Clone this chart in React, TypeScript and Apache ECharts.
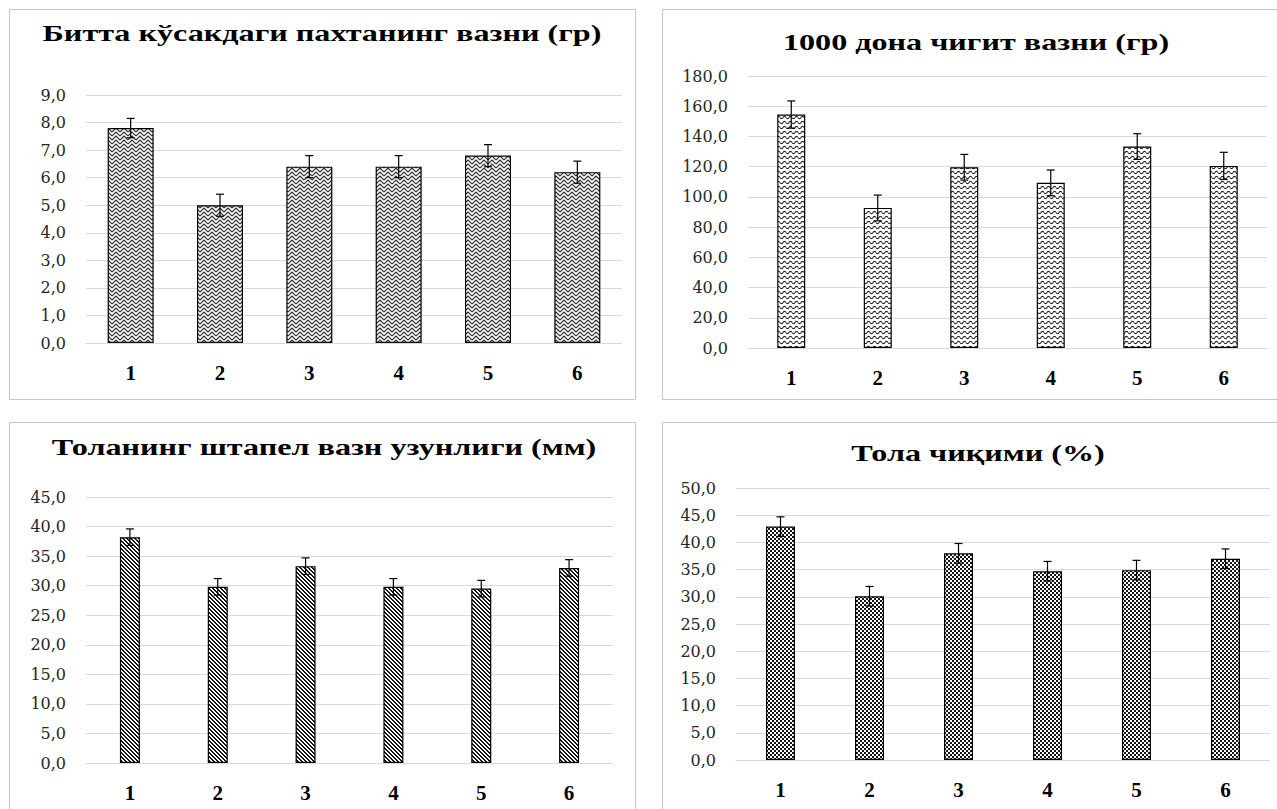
import React, { useEffect, useRef } from "react";
import * as echarts from "echarts";

// ---- data ----
const categories = ["1", "2", "3", "4", "5", "6"];

const bollWeight = [7.8, 5.0, 6.4, 6.4, 6.8, 6.2];
const bollWeightErr = [0.35, 0.4, 0.4, 0.4, 0.4, 0.4];

const seedWeight = [154.5, 92.7, 119.6, 109.3, 133.3, 120.5];
const seedWeightErr = [9, 8.5, 8.5, 8.5, 8.5, 9];

const fiberLength = [38.2, 29.8, 33.3, 29.8, 29.5, 33.0];
const fiberLengthErr = [1.4, 1.4, 1.4, 1.4, 1.4, 1.4];

const lintYield = [42.9, 30.1, 38.0, 34.7, 34.9, 37.0];
const lintYieldErr = [1.8, 1.8, 1.8, 1.8, 1.8, 1.8];

const titles = [
  "Битта кўсакдаги пахтанинг вазни (гр)",
  "1000 дона чигит вазни (гр)",
  "Толанинг штапел вазн узунлиги (мм)",
  "Тола чиқими (%)",
];

const yMaxes = [9, 180, 45, 50];
const ySteps = [1, 20, 5, 5];

// ---- pattern tiles ----
function tile(w: number, h: number, draw: (ctx: CanvasRenderingContext2D) => void) {
  const c = document.createElement("canvas");
  c.width = w;
  c.height = h;
  const ctx = c.getContext("2d")!;
  ctx.fillStyle = "#ffffff";
  ctx.fillRect(0, 0, w, h);
  draw(ctx);
  return { image: c.toDataURL(), repeat: "repeat", imageWidth: w, imageHeight: h } as any;
}

function zigzagPattern() {
  return tile(8, 8, (ctx) => {
    ctx.strokeStyle = "#2a2a2a";
    ctx.lineWidth = 1.15;
    for (let y0 = -8; y0 <= 12; y0 += 4) {
      ctx.beginPath();
      ctx.moveTo(0, y0 + 4);
      ctx.lineTo(4, y0);
      ctx.lineTo(8, y0 + 4);
      ctx.stroke();
    }
  });
}

function wavePattern() {
  return tile(6, 5, (ctx) => {
    ctx.strokeStyle = "#222";
    ctx.lineWidth = 1.1;
    for (let k = -1; k <= 1; k++) {
      ctx.beginPath();
      for (let s = 0; s <= 24; s++) {
        const x = (s / 24) * 6;
        const y = 2.5 + k * 5 + 1.1 * Math.sin((x / 6) * Math.PI * 2);
        if (s === 0) ctx.moveTo(x, y);
        else ctx.lineTo(x, y);
      }
      ctx.stroke();
    }
  });
}

function diagPattern() {
  return tile(4, 4, (ctx) => {
    ctx.fillStyle = "#141414";
    for (let x = 0; x < 4; x++)
      for (let y = 0; y < 4; y++) if ((x - y + 8) % 4 < 2) ctx.fillRect(x, y, 1, 1);
  });
}

function checkPattern() {
  return tile(4, 4, (ctx) => {
    ctx.fillStyle = "#161616";
    for (let x = 0; x < 4; x++)
      for (let y = 0; y < 4; y++) if (((x >> 1) + (y >> 1)) % 2 === 0) ctx.fillRect(x, y, 1, 1);
  });
}

const fmt = (v: number) => v.toFixed(1).replace(".", ",");

export default function App() {
  const ref = useRef<HTMLDivElement>(null);

  useEffect(() => {
    if (!ref.current) return;
    const chart = echarts.init(ref.current, undefined, { renderer: "svg" });

    const values = [bollWeight, seedWeight, fiberLength, lintYield];
    const errors = [bollWeightErr, seedWeightErr, fiberLengthErr, lintYieldErr];
    const patterns = [zigzagPattern(), wavePattern(), diagPattern(), checkPattern()];

    const grids = [
      { left: 86, top: 95, width: 536, height: 248 },
      { left: 748, top: 76, width: 519, height: 272 },
      { left: 86, top: 497, width: 527, height: 266 },
      { left: 736, top: 488, width: 534, height: 272 },
    ];
    const barWidths = [46, 28, 20, 29];
    const titlePos = [
      [322, 33],
      [976, 42],
      [324, 447],
      [978, 453],
    ];
    const panels = [
      { x: 9.5, y: 9.5, width: 626, height: 390 },
      { x: 662.5, y: 9.5, width: 700, height: 390 },
      { x: 9.5, y: 422.5, width: 626, height: 500 },
      { x: 662.5, y: 422.5, width: 700, height: 500 },
    ];

    const xAxis = grids.map((_, i) => ({
      type: "category",
      gridIndex: i,
      data: categories,
      axisLine: { show: true, lineStyle: { color: "#d9d9d9", width: 1 } },
      axisTick: { show: false },
      axisLabel: {
        margin: 19,
        fontFamily: "Liberation Serif",
        fontWeight: "bold",
        fontSize: 21,
        color: "#000",
      },
    }));

    const yAxis = grids.map((_, i) => ({
      type: "value",
      gridIndex: i,
      min: 0,
      max: yMaxes[i],
      interval: ySteps[i],
      axisLine: { show: false },
      axisTick: { show: false },
      splitLine: { show: true, lineStyle: { color: "#d9d9d9", width: 1 } },
      axisLabel: {
        margin: 20,
        fontFamily: "DejaVu Serif",
        fontSize: 16,
        color: "#262626",
        formatter: (v: number) => fmt(v),
      },
    }));

    const series: any[] = [];
    values.forEach((vals, i) => {
      series.push({
        type: "bar",
        xAxisIndex: i,
        yAxisIndex: i,
        data: vals,
        barWidth: barWidths[i],
        itemStyle: { color: patterns[i], borderColor: "#000", borderWidth: 1.2 },
        z: 2,
      });
      series.push({
        type: "custom",
        xAxisIndex: i,
        yAxisIndex: i,
        z: 5,
        encode: { x: 0, y: [1, 2] },
        data: vals.map((v, j) => [j, v - errors[i][j], v + errors[i][j]]),
        renderItem: (params: any, api: any) => {
          const idx = api.value(0);
          const lo = api.coord([idx, api.value(1)]);
          const hi = api.coord([idx, api.value(2)]);
          const cw = 4;
          const st = { stroke: "#000", lineWidth: 1.2 };
          return {
            type: "group",
            children: [
              { type: "line", shape: { x1: lo[0], y1: lo[1], x2: hi[0], y2: hi[1] }, style: st },
              { type: "line", shape: { x1: hi[0] - cw, y1: hi[1], x2: hi[0] + cw, y2: hi[1] }, style: st },
              { type: "line", shape: { x1: lo[0] - cw, y1: lo[1], x2: lo[0] + cw, y2: lo[1] }, style: st },
            ],
          };
        },
      });
    });

    const graphic: any[] = [];
    panels.forEach((p) => {
      graphic.push({
        type: "rect",
        shape: p,
        style: { fill: "none", stroke: "#c6c6c6", lineWidth: 1 },
        z: -10,
        silent: true,
      });
    });
    titles.forEach((t, i) => {
      graphic.push({
        type: "text",
        x: titlePos[i][0],
        y: titlePos[i][1],
        scaleX: 1.34,
        style: {
          text: t,
          font: "bold 24px Liberation Serif",
          fill: "#000",
          align: "center",
          verticalAlign: "middle",
          textAlign: "center",
          textVerticalAlign: "middle",
        },
      });
    });

    chart.setOption({
      animation: false,
      backgroundColor: "#ffffff",
      grid: grids,
      xAxis,
      yAxis,
      series,
      graphic,
    });

    return () => chart.dispose();
  }, []);

  return (
    <div
      ref={ref}
      style={{ position: "fixed", left: 0, top: 0, width: 1277, height: 809, background: "#fff" }}
    />
  );
}
